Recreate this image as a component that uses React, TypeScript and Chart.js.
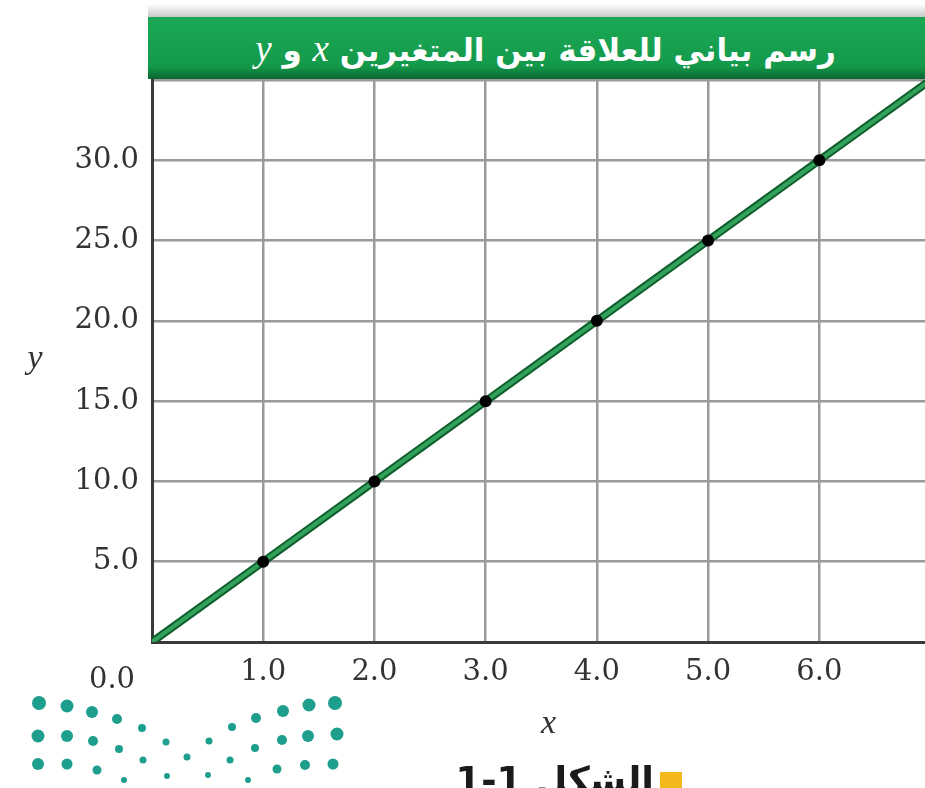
import React, { useEffect, useRef } from "react";
import { Chart, registerables } from "chart.js";

Chart.register(...registerables);

// ---- data ----
const xValues = [0, 1, 2, 3, 4, 5, 6, 7];
const yValues = [0, 5, 10, 15, 20, 25, 30, 35];
const markedPoints = [false, true, true, true, true, true, true, false];
const xTicks = [0, 1, 2, 3, 4, 5, 6];
const xTickLabels = ["0.0", "1.0", "2.0", "3.0", "4.0", "5.0", "6.0"];
const yTicks = [0, 5, 10, 15, 20, 25, 30, 35];
const yTickLabels = ["", "5.0", "10.0", "15.0", "20.0", "25.0", "30.0", ""];
const xTitle = "x";
const yTitle = "y";
const titleText = "رسم بياني للعلاقة بين المتغيرين";
const captionText = "الشكل 1-1";

const TICK_FONT = '"DejaVu Serif", serif';
const TITLE_FONT = '"Liberation Serif", serif';

const extrasPlugin = {
  id: "extras",
  afterDraw(chart: any) {
    const { ctx, chartArea } = chart;
    ctx.save();
    ctx.fillStyle = "#333";
    ctx.textAlign = "center";
    ctx.textBaseline = "middle";
    ctx.font = `29px ${TICK_FONT}`;
    ctx.fillText(xTickLabels[0], chartArea.left - 40, chartArea.bottom + 38);
    ctx.font = `italic 34px ${TITLE_FONT}`;
    ctx.fillText(yTitle, chartArea.left - 117, (chartArea.top + chartArea.bottom) / 2 - 2);
    ctx.fillText(xTitle, (chartArea.left + chartArea.right) / 2 + 10, chartArea.bottom + 82);
    ctx.restore();
  },
};

const logoDots: [number, number, number][] = [
  [39, 23, 7], [67, 26, 6.5], [92, 32, 6], [117, 39, 5], [142, 48, 4], [166, 62, 3.5],
  [209, 61, 3.5], [232, 47, 4], [256, 38, 5], [283, 31, 6], [309, 25, 6.5], [335, 23, 7],
  [38, 56, 6.5], [67, 56, 6], [93, 61, 5], [119, 69, 4], [143, 80, 3.5], [187, 77, 3.5],
  [230, 80, 3.5], [255, 68, 4], [282, 60, 5], [308, 56, 6], [337, 54, 6.5],
  [38, 84, 6], [67, 84, 5.5], [97, 90, 4.5], [124, 100, 3], [167, 96, 3], [208, 95, 3],
  [248, 100, 3], [277, 89, 4.5], [305, 85, 5], [333, 84, 5.5],
];

function Logo() {
  return (
    <svg width={360} height={108} style={{ position: "absolute", left: 0, top: 680 }}>
      {logoDots.map(([cx, cy, r], i) => (
        <circle key={i} cx={cx} cy={cy} r={r} fill="#1e9e8c" />
      ))}
    </svg>
  );
}

export default function App() {
  const ref = useRef<HTMLCanvasElement | null>(null);

  useEffect(() => {
    if (!ref.current) return;
    const pts = xValues.map((x, i) => ({ x, y: yValues[i] }));
    const chart = new Chart(ref.current, {
      type: "line",
      data: {
        datasets: [
          {
            data: pts,
            borderColor: "#32a25b",
            borderWidth: 4,
            pointRadius: markedPoints.map((m) => (m ? 6 : 0)),
            pointBackgroundColor: "#000",
            pointBorderWidth: 0,
            order: 0,
          },
          {
            data: pts,
            borderColor: "#0f5e2d",
            borderWidth: 8,
            pointRadius: 0,
            order: 1,
          },
        ],
      },
      plugins: [extrasPlugin],
      options: {
        animation: false,
        responsive: false,
        events: [],
        layout: { padding: { top: 80, right: 0, left: 0, bottom: 0 } },
        plugins: { legend: { display: false }, tooltip: { enabled: false }, title: { display: false } },
        scales: {
          x: {
            type: "linear",
            min: 0,
            max: 6.95,
            afterBuildTicks: (s: any) => {
              s.ticks = xTicks.map((v) => ({ value: v }));
            },
            afterFit: (s: any) => {
              s.height = 146;
            },
            ticks: {
              callback: (_v: any, i: number) => (i === 0 ? "" : xTickLabels[i]),
              font: { family: TICK_FONT, size: 29 },
              color: "#333",
              padding: 13,
              maxRotation: 0,
            },
            grid: { color: "#9a9a9a", lineWidth: 2.5, drawTicks: false },
            border: { color: "#3a3a3a", width: 3 },
          },
          y: {
            type: "linear",
            min: 0,
            max: 35,
            afterBuildTicks: (s: any) => {
              s.ticks = yTicks.map((v) => ({ value: v }));
            },
            afterFit: (s: any) => {
              s.width = 152;
            },
            ticks: {
              callback: (_v: any, i: number) => yTickLabels[i],
              font: { family: TICK_FONT, size: 29 },
              color: "#333",
              padding: 13,
            },
            grid: { color: "#9a9a9a", lineWidth: 2.5, drawTicks: false },
            border: { color: "#3a3a3a", width: 3 },
          },
        },
      },
    });
    return () => chart.destroy();
  }, []);

  return (
    <div style={{ position: "absolute", left: 0, top: 0, width: 925, height: 788, overflow: "hidden", background: "#fff" }}>
      <canvas ref={ref} width={925} height={788} style={{ position: "absolute", left: 0, top: 0 }} />
      <div
        style={{
          position: "absolute",
          left: 148,
          top: 4,
          width: 777,
          height: 14,
          background: "linear-gradient(#ffffff, #c4c4c4)",
        }}
      />
      <div
        style={{
          position: "absolute",
          left: 148,
          top: 17,
          width: 777,
          height: 62,
          background: "linear-gradient(#1ba955, #14994b 80%, #0a6630)",
          color: "#fff",
          display: "flex",
          alignItems: "center",
          justifyContent: "center",
          fontFamily: '"DejaVu Sans", sans-serif',
          fontWeight: "bold",
          fontSize: 31,
          direction: "rtl",
          whiteSpace: "nowrap",
        }}
      >
        <span style={{ marginLeft: 18 }}>
          {titleText}{" "}
          <i style={{ fontFamily: TITLE_FONT, fontWeight: "normal", fontSize: 37 }}>{xTitle}</i> و{" "}
          <i style={{ fontFamily: TITLE_FONT, fontWeight: "normal", fontSize: 37 }}>{yTitle}</i>
        </span>
      </div>
      <Logo />
      <div
        style={{
          position: "absolute",
          left: 400,
          top: 762,
          width: 282,
          display: "flex",
          alignItems: "flex-start",
          justifyContent: "flex-end",
          gap: 6,
        }}
      >
        <span
          dir="rtl"
          style={{ fontFamily: '"DejaVu Sans", sans-serif', fontWeight: "bold", fontSize: 37, color: "#1a1a1a", whiteSpace: "nowrap", lineHeight: 1 }}
        >
          {captionText}
        </span>
        <div style={{ width: 22, height: 22, flexShrink: 0, background: "#f5b81c", marginTop: 10 }} />
      </div>
    </div>
  );
}
